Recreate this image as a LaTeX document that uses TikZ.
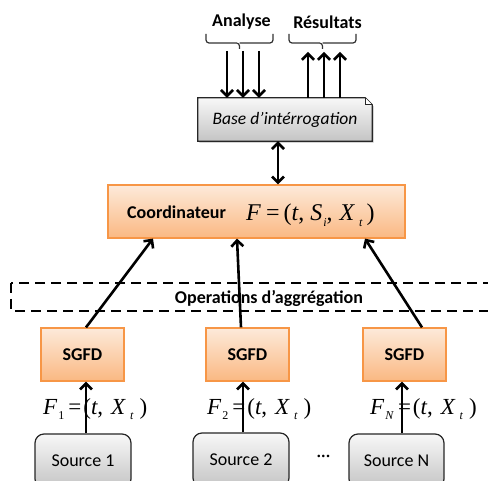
\documentclass[tikz,border=0pt]{standalone}
\usepackage{fontspec}
\setmainfont{Carlito}
\newfontfamily\tms{Liberation Serif}
\usetikzlibrary{arrows.meta,shadows}

\definecolor{orangetop}{RGB}{253,234,218}
\definecolor{orangebot}{RGB}{250,184,130}
\definecolor{orangeedge}{RGB}{247,150,70}
\definecolor{graytop}{RGB}{248,248,248}
\definecolor{graybot}{RGB}{196,196,196}

% subscript set lower and smaller, as in an equation editor
\newcommand\lowsub[1]{\raisebox{-5.5pt}{\fontsize{12}{12}\selectfont #1}}
% flow tuple F_k = (t, X_t)
\newcommand\flowtuple[1]{\textit{F}\kern1pt\lowsub{#1}\kern4pt=\kern2pt(\textit{t},\kern8pt\textit{X}\kern4pt\lowsub{\textit{t}}\kern6pt)}

\begin{document}
\begin{tikzpicture}[
  x=1pt, y=-1pt,
  txt/.style={font=\fontsize{18}{20}\selectfont, inner sep=0pt},
  orangebox/.style={draw=orangeedge, line width=1.2pt, top color=orangetop, bottom color=orangebot,
    font=\fontsize{18}{20}\selectfont\bfseries,
    drop shadow={opacity=0.25, shadow xshift=1.2pt, shadow yshift=-1.5pt}},
  graybox/.style={draw=black!85, line width=1.2pt, rounded corners=9pt, top color=graytop, bottom color=graybot,
    font=\fontsize{18}{20}\selectfont},
  flow/.style={line width=2.6pt, -{Straight Barb[length=6pt,width=12pt]}},
  twoway/.style={line width=2.6pt, {Straight Barb[length=6pt,width=12pt]}-{Straight Barb[length=6pt,width=12pt]}},
  bracket/.style={line width=1.2pt, draw=black!80, rounded corners=3pt},
  eq/.style={inner sep=0pt, font=\tms\fontsize{23}{26}\selectfont},
]
\useasboundingbox (0,0) rectangle (488,481);
\clip (0,0) rectangle (488,481);

% ---------- query base with folded corner ----------
\node[minimum width=174pt, minimum height=43pt, inner sep=0pt] (base) at (285,119.5) {};
\fill[black, opacity=0.25] ([xshift=1.5pt,yshift=-1.5pt]base.north west) -- ([xshift=-5.5pt,yshift=-1.5pt]base.north east)
  -- ([xshift=1.5pt,yshift=-8.5pt]base.north east) -- ([xshift=1.5pt,yshift=-1.5pt]base.south east)
  -- ([xshift=1.5pt,yshift=-1.5pt]base.south west) -- cycle;
\path[draw=black!85, line width=1.2pt, top color=graytop, bottom color=graybot]
  (base.north west) -- ([xshift=-7pt]base.north east) -- ([yshift=-7pt]base.north east)
  -- (base.south east) -- (base.south west) -- cycle;
\draw[black!85, line width=1pt, fill=white] ([xshift=-7pt]base.north east) -- ([xshift=-7pt,yshift=-7pt]base.north east) -- ([yshift=-7pt]base.north east);
\node[txt, font=\fontsize{17.5}{20}\selectfont\itshape] (basetxt) at (base.center) {Base d’intérrogation};

% ---------- analysis requests and results ----------
\node[txt, font=\fontsize{18}{20}\selectfont\bfseries] (analyse) at (241.5,22) {Analyse};
\node[txt, font=\fontsize{18}{20}\selectfont\bfseries] (resultats) at (327.5,22) {Résultats};
\draw[bracket] (206,34) |- (239.5,43) -- (239.5,49);
\draw[bracket] (239.5,43) -| (273,34);
\draw[bracket] (289,34) |- (322.5,43) -- (322.5,49);
\draw[bracket] (322.5,43) -| (356,34);

\coordinate (a1) at (227,51);
\coordinate (a2) at (243,51);
\coordinate (a3) at (259,51);
\coordinate (r1) at (308,52);
\coordinate (r2) at (324,52);
\coordinate (r3) at (340,52);
\draw[flow] (a1) -- ([xshift=-58pt]base.north);
\draw[flow] (a2) -- ([xshift=-42pt]base.north);
\draw[flow] (a3) -- ([xshift=-26pt]base.north);
\draw[flow] ([xshift=23pt]base.north) -- (r1);
\draw[flow] ([xshift=39pt]base.north) -- (r2);
\draw[flow] ([xshift=55pt]base.north) -- (r3);

% ---------- coordinator ----------
\node[orangebox, minimum width=297pt, minimum height=53pt, inner sep=0pt] (co) at (256.5,211.5) {};
\node[txt, font=\fontsize{18}{20}\selectfont\bfseries, anchor=base west] (cotxt) at (127,219) {Coordinateur};
\node[eq, font=\tms\fontsize{24}{26}\selectfont, anchor=base west] (coeq) at (246,221)
  {\textit{F}\kern5pt=\kern4pt(\textit{t},\kern6pt\textit{S}\kern1pt\lowsub{\textit{i}},\kern7pt\textit{X}\kern4pt\lowsub{\textit{t}}\kern4pt)};

\draw[twoway] ([xshift=-7pt]base.south) -- ([xshift=21.5pt]co.north);

% ---------- aggregation band ----------
\draw[line width=2pt, dash pattern=on 10pt off 6pt] (11,283) rectangle (520,311);
\node[txt, font=\fontsize{18}{20}\selectfont\bfseries] (aggr) at (269,298) {Operations d’aggrégation};

% ---------- SGFD boxes ----------
\node[orangebox, minimum width=83pt, minimum height=53pt] (sg1) at (82.5,354.5) {SGFD};
\node[orangebox, minimum width=83pt, minimum height=53pt] (sg2) at (247.5,354.5) {SGFD};
\node[orangebox, minimum width=83pt, minimum height=53pt] (sg3) at (404.5,354.5) {SGFD};

\draw[flow] ([xshift=3.5pt]sg1.north) -- ([xshift=-103.5pt]co.south);
\draw[flow] ([xshift=-6.5pt]sg2.north) -- ([xshift=-19.5pt]co.south);
\draw[flow] ([xshift=17.5pt]sg3.north) -- ([xshift=108.5pt]co.south);

% ---------- sources ----------
\node[graybox, minimum width=96pt, minimum height=54pt] (src1) at (83,461) {Source 1};
\node[graybox, minimum width=96pt, minimum height=54pt] (src2) at (241,460) {Source 2};
\node[graybox, minimum width=95pt, minimum height=54pt] (srcn) at (396.5,461) {Source N};
\node[txt] (dots) at (323.5,458) {\textperiodcentered\textperiodcentered\textperiodcentered};

% ---------- flow labels ----------
\node[eq, anchor=base west] (f1) at (43,414) {\flowtuple{1}};
\node[eq, anchor=base west] (f2) at (207,414) {\flowtuple{2}};
\node[eq, anchor=base west] (fn) at (370,414) {\flowtuple{\textit{N}}};

\draw[flow] ([xshift=3pt]src1.north) -- ([xshift=3.5pt]sg1.south);
\draw[flow] ([xshift=2pt]src2.north) -- ([xshift=-4.5pt]sg2.south);
\draw[flow] ([xshift=5.5pt]srcn.north) -- ([xshift=-2.5pt]sg3.south);
\end{tikzpicture}
\end{document}
